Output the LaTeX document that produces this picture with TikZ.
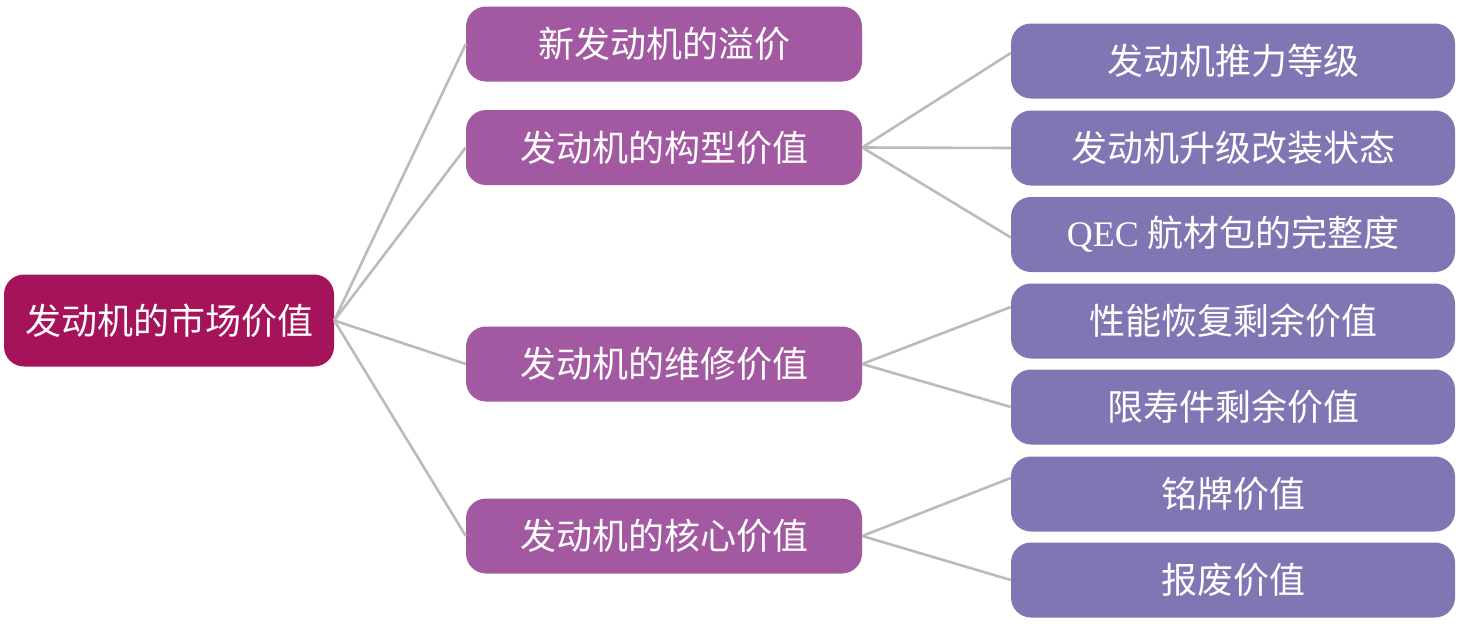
\documentclass[tikz,border=0pt]{standalone}
\usepackage{fontspec}
\usetikzlibrary{calc}
\setmainfont{Liberation Serif}
\newfontfamily\cjk{Noto Sans CJK SC}
\definecolor{rootc}{RGB}{165,20,90}
\definecolor{midc}{RGB}{163,89,161}
\definecolor{leafc}{RGB}{128,118,180}
\definecolor{linec}{RGB}{187,187,187}
\tikzset{
  box/.style={rounded corners=20pt, inner sep=0pt, text=white, font=\cjk\fontsize{36}{40}\selectfont, draw=none},
  rootbox/.style={box, fill=rootc, minimum width=330pt, minimum height=92pt},
  midbox/.style={box, fill=midc, minimum width=396pt, minimum height=75pt},
  leafbox/.style={box, fill=leafc, minimum width=444pt, minimum height=75pt},
  conn/.style={draw=linec, line width=2.6pt}
}
\begin{document}
\begin{tikzpicture}[x=1pt,y=-1pt]
\useasboundingbox (0,0) rectangle (1467,629);
\node[rootbox] (r) at (169,320.5) {发动机的市场价值};
\node[midbox] (m1) at (664,44) {新发动机的溢价};
\node[midbox] (m2) at (664,147.5) {发动机的构型价值};
\node[midbox] (m3) at (664,364) {发动机的维修价值};
\node[midbox] (m4) at (664,536) {发动机的核心价值};
\node[leafbox] (l1) at (1233,61) {发动机推力等级};
\node[leafbox] (l2) at (1233,148) {发动机升级改装状态};
\node[leafbox] (l3) at (1233,234.5) {{\fontspec{Liberation Serif}QEC} 航材包的完整度};
\node[leafbox] (l4) at (1233,321) {性能恢复剩余价值};
\node[leafbox] (l5) at (1233,407) {限寿件剩余价值};
\node[leafbox] (l6) at (1233,494) {铭牌价值};
\node[leafbox] (l7) at (1233,580) {报废价值};
\foreach \m in {m1,m2,m3,m4} \draw[conn] (r.east) -- (\m.west);
\draw[conn] (m2.east) -- ($(l1.west)+(0,-8)$);
\draw[conn] (m2.east) -- (l2.west);
\draw[conn] (m2.east) -- ($(l3.west)+(0,3)$);
\draw[conn] (m3.east) -- ($(l4.west)+(0,-14)$);
\draw[conn] (m3.east) -- (l5.west);
\draw[conn] (m4.east) -- ($(l6.west)+(0,-16)$);
\draw[conn] (m4.east) -- (l7.west);
\end{tikzpicture}
\end{document}
